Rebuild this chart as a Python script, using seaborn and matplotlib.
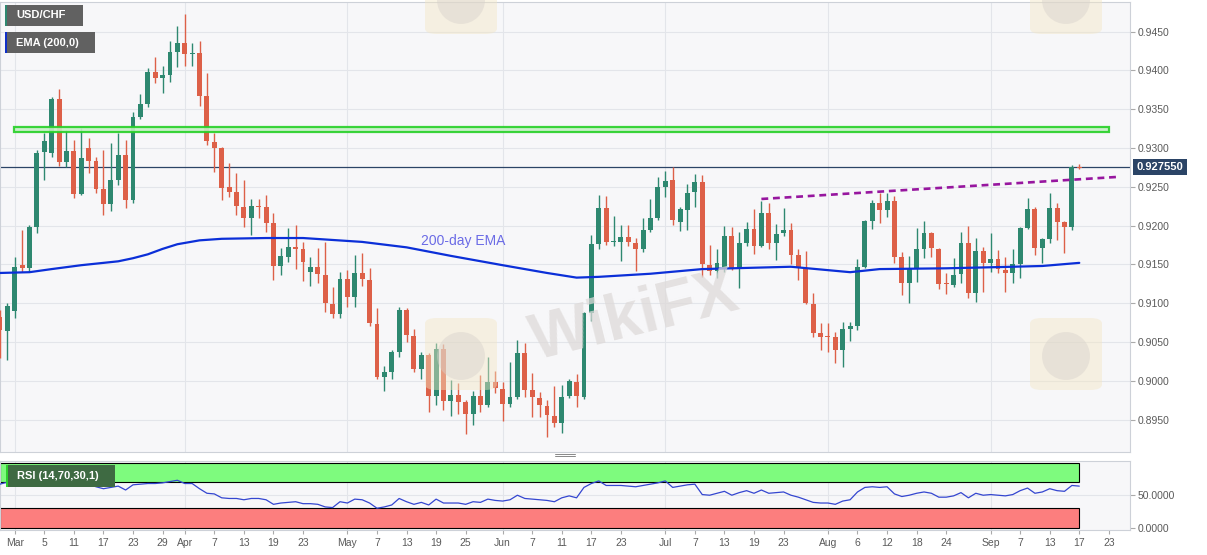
import matplotlib
matplotlib.use('Agg')
import matplotlib.pyplot as plt
from matplotlib.patches import Rectangle, FancyBboxPatch, Ellipse
from matplotlib.lines import Line2D
import numpy as np
import pandas as pd
import seaborn as sns


## Data (trading-day index: 0 = 1 Mar 2021, 144 = 17 Sep 2021)

day = list(range(-2, 145))

open_ = [0.9082, 0.9064, 0.9090, 0.9149, 0.9145, 0.9198, 0.9295, 0.9293, 0.9363, 0.9282,
         0.9296, 0.9241, 0.9300, 0.9283, 0.9247, 0.9228, 0.9259, 0.9291, 0.9233, 0.9340,
         0.9357, 0.9398, 0.9390, 0.9394, 0.9424, 0.9435, 0.9421, 0.9422, 0.9367, 0.9308,
         0.9300, 0.9250, 0.9243, 0.9224, 0.9210, 0.9225, 0.9224, 0.9203, 0.9148, 0.9160,
         0.9172, 0.9170, 0.9140, 0.9147, 0.9136, 0.9099, 0.9086, 0.9131, 0.9108, 0.9139,
         0.9130, 0.9073, 0.9005, 0.9011, 0.9037, 0.9091, 0.9058, 0.9015, 0.9033, 0.8981,
         0.9041, 0.8974, 0.8982, 0.8973, 0.8957, 0.8981, 0.8969, 0.8999, 0.8990, 0.8970,
         0.8979, 0.9036, 0.8988, 0.8978, 0.8968, 0.8955, 0.8946, 0.8981, 0.8999, 0.8979,
         0.9087, 0.9176, 0.9223, 0.9179, 0.9179, 0.9185, 0.9178, 0.9170, 0.9194, 0.9210,
         0.9250, 0.9259, 0.9205, 0.9220, 0.9243, 0.9256, 0.9149, 0.9142, 0.9145, 0.9187,
         0.9145, 0.9178, 0.9196, 0.9174, 0.9216, 0.9178, 0.9190, 0.9194, 0.9162, 0.9145,
         0.9099, 0.9062, 0.9058, 0.9057, 0.9040, 0.9067, 0.9071, 0.9147, 0.9206, 0.9229,
         0.9220, 0.9232, 0.9160, 0.9126, 0.9145, 0.9170, 0.9190, 0.9170, 0.9126, 0.9124,
         0.9138, 0.9178, 0.9113, 0.9167, 0.9152, 0.9157, 0.9143, 0.9139, 0.9151, 0.9197,
         0.9221, 0.9171, 0.9183, 0.9223, 0.9205, 0.9198, 0.9276]

high_ = [0.9091, 0.9100, 0.9160, 0.9194, 0.9201, 0.9297, 0.9319, 0.9366, 0.9376, 0.9323,
         0.9310, 0.9326, 0.9313, 0.9288, 0.9297, 0.9306, 0.9319, 0.9310, 0.9346, 0.9370,
         0.9403, 0.9417, 0.9406, 0.9438, 0.9457, 0.9473, 0.9435, 0.9438, 0.9397, 0.9319,
         0.9301, 0.9281, 0.9268, 0.9259, 0.9234, 0.9234, 0.9239, 0.9216, 0.9171, 0.9197,
         0.9201, 0.9179, 0.9160, 0.9171, 0.9179, 0.9121, 0.9140, 0.9143, 0.9162, 0.9165,
         0.9145, 0.9094, 0.9019, 0.9040, 0.9095, 0.9094, 0.9067, 0.9037, 0.9036, 0.9049,
         0.9047, 0.9001, 0.8997, 0.8975, 0.8987, 0.9008, 0.9031, 0.9013, 0.8999, 0.9024,
         0.9053, 0.9049, 0.9010, 0.8986, 0.8975, 0.8993, 0.8995, 0.9002, 0.9009, 0.9089,
         0.9188, 0.9239, 0.9238, 0.9212, 0.9201, 0.9201, 0.9184, 0.9210, 0.9234, 0.9263,
         0.9270, 0.9276, 0.9224, 0.9254, 0.9267, 0.9265, 0.9175, 0.9170, 0.9200, 0.9198,
         0.9192, 0.9205, 0.9221, 0.9232, 0.9229, 0.9202, 0.9223, 0.9203, 0.9170, 0.9167,
         0.9113, 0.9075, 0.9075, 0.9063, 0.9076, 0.9076, 0.9157, 0.9207, 0.9233, 0.9242,
         0.9242, 0.9238, 0.9166, 0.9161, 0.9197, 0.9206, 0.9192, 0.9171, 0.9139, 0.9158,
         0.9192, 0.9200, 0.9184, 0.9172, 0.9190, 0.9169, 0.9160, 0.9170, 0.9198, 0.9236,
         0.9224, 0.9184, 0.9242, 0.9229, 0.9206, 0.9278, 0.9279]

low_ = [0.9030, 0.9027, 0.9081, 0.9140, 0.9140, 0.9190, 0.9259, 0.9288, 0.9277, 0.9276,
        0.9236, 0.9239, 0.9268, 0.9242, 0.9214, 0.9219, 0.9252, 0.9223, 0.9229, 0.9337,
        0.9353, 0.9384, 0.9371, 0.9385, 0.9404, 0.9406, 0.9406, 0.9354, 0.9304, 0.9269,
        0.9233, 0.9237, 0.9214, 0.9198, 0.9188, 0.9210, 0.9192, 0.9130, 0.9136, 0.9153,
        0.9144, 0.9129, 0.9122, 0.9126, 0.9089, 0.9081, 0.9081, 0.9095, 0.9095, 0.9122,
        0.9071, 0.9002, 0.8987, 0.9002, 0.9031, 0.9050, 0.9011, 0.9002, 0.8960, 0.8969,
        0.8962, 0.8955, 0.8957, 0.8932, 0.8943, 0.8960, 0.8966, 0.8984, 0.8948, 0.8966,
        0.8977, 0.8979, 0.8953, 0.8953, 0.8928, 0.8941, 0.8933, 0.8978, 0.8966, 0.8977,
        0.9077, 0.9170, 0.9175, 0.9174, 0.9154, 0.9174, 0.9142, 0.9166, 0.9192, 0.9207,
        0.9237, 0.9201, 0.9193, 0.9194, 0.9224, 0.9134, 0.9136, 0.9133, 0.9140, 0.9143,
        0.9120, 0.9174, 0.9164, 0.9172, 0.9170, 0.9156, 0.9187, 0.9151, 0.9130, 0.9099,
        0.9057, 0.9040, 0.9037, 0.9023, 0.9018, 0.9051, 0.9066, 0.9145, 0.9196, 0.9203,
        0.9211, 0.9152, 0.9111, 0.9100, 0.9127, 0.9158, 0.9160, 0.9118, 0.9112, 0.9121,
        0.9126, 0.9107, 0.9102, 0.9115, 0.9140, 0.9139, 0.9114, 0.9126, 0.9132, 0.9196,
        0.9162, 0.9152, 0.9178, 0.9181, 0.9165, 0.9194, 0.9273]

close_ = [0.9066, 0.9096, 0.9147, 0.9145, 0.9198, 0.9293, 0.9309, 0.9363, 0.9282, 0.9296,
          0.9241, 0.9287, 0.9283, 0.9247, 0.9228, 0.9259, 0.9291, 0.9233, 0.9340, 0.9357,
          0.9398, 0.9390, 0.9394, 0.9424, 0.9435, 0.9421, 0.9422, 0.9367, 0.9309, 0.9300,
          0.9248, 0.9243, 0.9225, 0.9210, 0.9225, 0.9224, 0.9203, 0.9148, 0.9161, 0.9172,
          0.9170, 0.9153, 0.9147, 0.9138, 0.9100, 0.9086, 0.9131, 0.9108, 0.9139, 0.9131,
          0.9075, 0.9005, 0.9011, 0.9037, 0.9091, 0.9059, 0.9015, 0.9033, 0.8981, 0.9041,
          0.8974, 0.8982, 0.8973, 0.8957, 0.8981, 0.8969, 0.8999, 0.8991, 0.8970, 0.8979,
          0.9036, 0.8988, 0.8979, 0.8969, 0.8956, 0.8946, 0.8979, 0.9000, 0.8981, 0.9087,
          0.9176, 0.9223, 0.9179, 0.9180, 0.9185, 0.9179, 0.9170, 0.9194, 0.9210, 0.9250,
          0.9258, 0.9207, 0.9221, 0.9242, 0.9256, 0.9151, 0.9142, 0.9152, 0.9187, 0.9145,
          0.9178, 0.9196, 0.9174, 0.9216, 0.9178, 0.9189, 0.9194, 0.9162, 0.9145, 0.9100,
          0.9062, 0.9057, 0.9057, 0.9040, 0.9067, 0.9071, 0.9147, 0.9206, 0.9229, 0.9220,
          0.9232, 0.9160, 0.9126, 0.9145, 0.9170, 0.9190, 0.9171, 0.9125, 0.9125, 0.9136,
          0.9178, 0.9113, 0.9167, 0.9152, 0.9157, 0.9144, 0.9139, 0.9151, 0.9197, 0.9221,
          0.9171, 0.9183, 0.9223, 0.9205, 0.9198, 0.9275, 0.92755]

rsi = [67, 70, 74, 73, 73, 74, 74, 73, 72, 73,
       65, 66, 67, 63, 60, 62, 64, 58, 66, 67,
       68, 68, 69, 71, 73, 68, 68, 60, 53, 52,
       46, 45, 45, 43, 45, 45, 43, 36, 38, 39,
       40, 37, 37, 36, 32, 31, 40, 38, 44, 43,
       38, 30, 32, 35, 45, 40, 36, 39, 35, 44,
       38, 38, 38, 36, 40, 39, 44, 42, 41, 43,
       50, 45, 44, 43, 42, 40, 46, 49, 46, 62,
       68, 72, 65, 65, 65, 64, 63, 65, 67, 69,
       72, 62, 64, 66, 67, 51, 50, 53, 56, 50,
       54, 57, 53, 58, 53, 54, 55, 50, 47, 43,
       39, 38, 38, 36, 41, 43, 55, 62, 63, 62,
       63, 52, 48, 50, 53, 55, 53, 47, 47, 49,
       54, 46, 53, 50, 51, 50, 49, 51, 57, 61,
       53, 55, 60, 57, 56, 65, 64]

ema_day = [-2, 2, 5, 9, 14, 16, 18, 20, 22, 25, 28, 34, 39, 47, 53, 59, 66, 72, 76, 79,
           86, 93, 97, 105, 113, 117, 126, 135, 139, 144]
ema_val = [0.9139, 0.9140, 0.9144, 0.9149, 0.9154, 0.9158, 0.9163, 0.9170, 0.9176, 0.9181,
           0.9183, 0.9184, 0.9184, 0.9179, 0.9172, 0.9161, 0.9149, 0.9139, 0.9133, 0.9134,
           0.9138, 0.9144, 0.9145, 0.9147, 0.9140, 0.9144, 0.9145, 0.9147, 0.9148, 0.9152]

trend_day = [101, 149]
trend_val = [0.92343, 0.92626]

zone_day = [-0.1, 148.0]
zone_val = [0.9320, 0.9327]

last_price = 0.92755

price_ticks = [0.8950, 0.9000, 0.9050, 0.9100, 0.9150, 0.9200, 0.9250,
               0.9300, 0.9350, 0.9400, 0.9450]
month_pos = [0, 23, 45, 66, 88, 110, 132]
tick_pos = [0, 4, 8, 12, 16, 20, 23, 27, 31, 35, 39, 45, 49, 53, 57, 61, 66, 70,
            74, 78, 82, 88, 92, 96, 100, 104, 110, 114, 118, 122, 126, 132, 136,
            140, 144, 148]
tick_lab = ['Mar', '5', '11', '17', '23', '29', 'Apr', '7', '13', '19', '23', 'May',
            '7', '13', '19', '25', 'Jun', '7', '11', '17', '23', 'Jul', '7', '13',
            '19', '23', 'Aug', '6', '12', '18', '24', 'Sep', '7', '13', '17', '23']


## Style

sns.set_style('white')
plt.rcParams['font.family'] = ['Liberation Sans', 'DejaVu Sans']

GREEN = '#2e8870'
RED = '#dd6048'
GRID = '#e3e5ea'
BG = '#f7f7f9'
SPINE = '#cdd1d8'
TXT = '#5a5a5a'

W, H = 1207, 555
fig = plt.figure(figsize=(W / 100, H / 100), dpi=100)
fig.patch.set_facecolor('white')


def fx(x):
    return x / W


def fy(y):
    return 1 - y / H


ax = fig.add_axes([0, fy(452), fx(1130), fy(2) - fy(452)])
rx = fig.add_axes([0, fy(530), fx(1130), fy(460.5) - fy(530)])

xlim = (-1.99, 150.86)

for a in (ax, rx):
    a.set_facecolor(BG)
    a.set_xlim(*xlim)
    for s in a.spines.values():
        s.set_color(SPINE)
        s.set_linewidth(0.8)
    for m in month_pos:
        a.axvline(m, color=GRID, lw=0.8, zorder=0)


## Price panel

df = pd.DataFrame({'day': day, 'open': open_, 'high': high_,
                   'low': low_, 'close': close_})
up = df['close'] >= df['open']
colors = np.where(up, GREEN, RED)
body = (df['close'] - df['open']).to_numpy()
body = np.where(np.abs(body) < 0.00012, np.where(up, 0.00012, -0.00012), body)

ax.vlines(df['day'], df['low'], df['high'], colors=colors, lw=1.0, zorder=3)
ax.bar(df['day'], body, bottom=df['open'], width=0.66, color=colors,
       linewidth=0, zorder=4)

sns.lineplot(x=ema_day, y=ema_val, ax=ax, color='#0b2fd8', lw=1.6, zorder=5)

ax.axhline(last_price, color='#2b4466', lw=0.9, zorder=2)

ax.add_patch(Rectangle((zone_day[0], zone_val[0]), zone_day[1] - zone_day[0],
                       zone_val[1] - zone_val[0], facecolor='#c8f0c8', alpha=0.9,
                       edgecolor='#26d026', lw=1.6, zorder=6))

ax.plot(trend_day, trend_val, color='#97169f', lw=1.9, ls=(0, (2.6, 1.8)), zorder=6)

ax.text(60.6, 0.91806, '200-day EMA', color='#6b6be6', fontsize=10,
        ha='center', va='center', zorder=7)

ax.set_ylim(0.89084, 0.94880)
ax.yaxis.tick_right()
ax.set_yticks(price_ticks)
ax.set_yticklabels([f'{v:.4f}' for v in price_ticks])
ax.set_xticks([])
ax.tick_params(axis='y', length=3.5, width=0.8, color='#aaaaaa', labelsize=7.5,
               labelcolor=TXT, pad=2, right=True, left=False)
for v in price_ticks:
    ax.axhline(v, color=GRID, lw=0.8, zorder=0)
ax.set_xlabel('')
ax.set_ylabel('')

ax.text(1.0058, last_price, f'{last_price:.6f}', transform=ax.get_yaxis_transform(),
        ha='left', va='center', color='white', fontsize=8, fontweight='bold',
        bbox=dict(boxstyle='square,pad=0.3', fc='#2b4466', ec='none'),
        clip_on=False, zorder=8)


## RSI panel

rx.set_ylim(-3.5, 103.4)
rx.add_patch(Rectangle((xlim[0], 70), 144 - xlim[0], 30, facecolor='#7efb7e',
                       edgecolor='black', lw=0.8, zorder=1))
rx.add_patch(Rectangle((xlim[0], 0), 144 - xlim[0], 30, facecolor='#fc7e7e',
                       edgecolor='black', lw=0.8, zorder=1))
rx.axhline(50, color=GRID, lw=0.8, zorder=0)
sns.lineplot(x=day, y=rsi, ax=rx, color='#3446d0', lw=0.9, zorder=3)

rx.yaxis.tick_right()
rx.set_yticks([0, 50])
rx.set_yticklabels(['0.0000', '50.0000'])
rx.set_xticks(tick_pos)
rx.set_xticklabels(tick_lab)
rx.tick_params(axis='y', length=3.5, width=0.8, color='#aaaaaa', labelsize=7.5,
               labelcolor=TXT, pad=2, right=True, left=False)
rx.tick_params(axis='x', length=3, width=0.8, color='#aaaaaa', labelsize=7.5,
               labelcolor=TXT, pad=3, bottom=True)
rx.set_xlabel('')
rx.set_ylabel('')


## Legend boxes, handle and watermarks

def label_box(x0, y0, x1, y1, face, strip, text):
    fig.add_artist(Rectangle((fx(x0), fy(y1)), fx(x1 - x0), fy(y0) - fy(y1),
                             transform=fig.transFigure, fc=face, ec='none', zorder=20))
    fig.add_artist(Rectangle((fx(x0), fy(y1)), fx(2.2), fy(y0) - fy(y1),
                             transform=fig.transFigure, fc=strip, ec='none', zorder=21))
    fig.text(fx(x0 + 11), fy((y0 + y1) / 2), text, color='white', fontsize=8,
             fontweight='bold', ha='left', va='center', zorder=22)


label_box(5, 5, 83, 26, '#616161', '#2e8870', 'USD/CHF')
label_box(5, 32, 95, 53, '#616161', '#1030c8', 'EMA (200,0)')
label_box(6, 465, 115, 487, '#3e6a42', '#2ed02e', 'RSI (14,70,30,1)')

for yy in (454.3, 456.3):
    fig.add_artist(Line2D([fx(555), fx(575)], [fy(yy), fy(yy)], color='#888888',
                          lw=0.7, transform=fig.transFigure, zorder=20))

fig.text(fx(635), fy(318), 'WikiFX', color='#dedad9', fontsize=46, fontweight='bold',
         ha='center', va='center', rotation=14, zorder=1, alpha=0.75)
for (lx, ly) in ((425, 318), (1030, 318), (425, -38), (1030, -38)):
    fig.add_artist(FancyBboxPatch((fx(lx), fy(ly + 72)), fx(72), fy(ly) - fy(ly + 72),
                                  boxstyle='round,pad=0,rounding_size=0.01',
                                  transform=fig.transFigure, fc='#f3e6c4',
                                  ec='none', alpha=0.45, zorder=1))
    fig.add_artist(Ellipse((fx(lx + 36), fy(ly + 38)), fx(48), fy(0) - fy(48),
                           transform=fig.transFigure, fc='#d8d2cc', ec='none',
                           alpha=0.45, zorder=1))

fig.savefig('out.png', dpi=100)
